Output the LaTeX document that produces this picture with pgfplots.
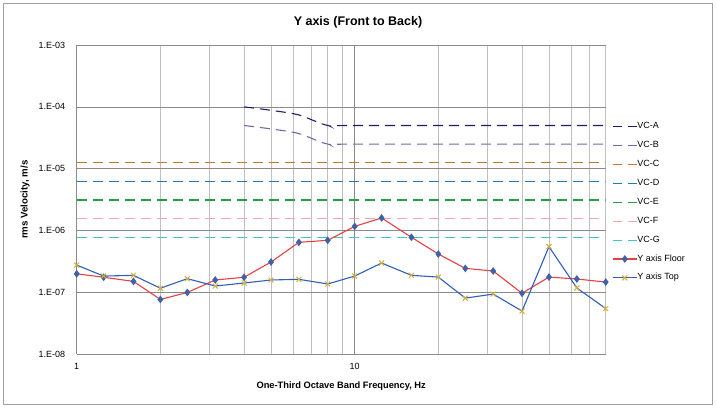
\documentclass[border=0pt]{standalone}
\usepackage{fontspec}
\setmainfont{Liberation Sans}
\usepackage{pgfplots}
\usepackage{pgfplotstable}
\pgfplotsset{compat=1.18}

\definecolor{vca}{HTML}{1C1C6B}
\definecolor{vcb}{HTML}{8064A2}
\definecolor{vcc}{HTML}{C8782E}
\definecolor{vcd}{HTML}{1A80B4}
\definecolor{vce}{HTML}{22A046}
\definecolor{vcf}{HTML}{F0A8A8}
\definecolor{vcg}{HTML}{3CC8C8}
\definecolor{floorred}{HTML}{E84040}
\definecolor{floorblue}{HTML}{3C62A8}
\definecolor{topblue}{HTML}{2E5EBF}
\definecolor{topgold}{HTML}{D4AF37}
\definecolor{majgrid}{HTML}{8A8A8A}
\definecolor{mingrid}{HTML}{C0C0C0}

\pgfplotstableread{
x y
1 2.0e-7
1.25 1.76e-7
1.6 1.51e-7
2 7.7e-8
2.5 1.0e-7
3.15 1.59e-7
4 1.76e-7
5 3.1e-7
6.3 6.46e-7
8 6.96e-7
10 1.17e-6
12.5 1.6e-6
16 7.8e-7
20 4.18e-7
25 2.45e-7
31.5 2.22e-7
40 9.7e-8
50 1.77e-7
63 1.65e-7
80 1.47e-7
}\floordata

\pgfplotstableread{
x y
1 2.77e-7
1.25 1.84e-7
1.6 1.89e-7
2 1.17e-7
2.5 1.67e-7
3.15 1.27e-7
4 1.42e-7
5 1.59e-7
6.3 1.63e-7
8 1.37e-7
10 1.84e-7
12.5 2.99e-7
16 1.89e-7
20 1.77e-7
25 8.1e-8
31.5 9.4e-8
40 5.0e-8
50 5.5e-7
63 1.18e-7
80 5.5e-8
}\topdata

\pgfplotstableread{
x a b
4 1.0e-4 5.0e-5
5 8.8e-5 4.4e-5
6.3 7.4e-5 3.7e-5
8 5.0e-5 2.5e-5
10 5.0e-5 2.5e-5
80 5.0e-5 2.5e-5
}\vcab

\pgfplotsset{vcline/.style={color=#1, line width=1.1pt, dash pattern=on 10pt off 6pt,
  legend image post style={dash pattern=on 9pt off 6pt}}}

\begin{document}
\begin{tikzpicture}
\useasboundingbox (0,0) rectangle (717pt,410pt);
\draw[gray!75, line width=0.8pt] (3.3pt,6pt) rectangle (712.3pt,406.7pt);
\node[font=\bfseries\fontsize{12.5}{14}\selectfont, anchor=center] at (358pt,387.3pt) {Y axis (Front to Back)};
\begin{axis}[
  at={(76.7pt,55.7pt)}, anchor=south west,
  scale only axis, width=529pt, height=309.3pt,
  xmode=log, ymode=log,
  xmin=1, xmax=80, ymin=1e-8, ymax=1e-3,
  xtick={1,10}, xticklabels={1,10},
  minor xtick={2,3,4,5,6,7,8,9,20,30,40,50,60,70,80},
  ytick={1e-8,1e-7,1e-6,1e-5,1e-4,1e-3},
  yticklabels={1.E-08,1.E-07,1.E-06,1.E-05,1.E-04,1.E-03},
  xmajorgrids, xminorgrids, ymajorgrids,
  major grid style={draw=majgrid, line width=0.7pt},
  minor grid style={draw=mingrid, line width=0.7pt},
  tick style={draw=none},
  axis line style={draw=none},
  tick label style={font=\fontsize{9}{10}\selectfont},
  yticklabel style={xshift=-8pt},
  xticklabel style={yshift=-5pt},
  xlabel={One-Third Octave Band Frequency, Hz},
  xlabel style={at={(axis description cs:0.5,-0.1015)}, anchor=center, font=\bfseries\fontsize{9.3}{11}\selectfont},
  ylabel={rms Velocity, m/s},
  ylabel style={at={(axis description cs:-0.0977,0.5)}, anchor=center, font=\bfseries\fontsize{9.7}{11}\selectfont},
  legend image code/.code={\draw[mark repeat=2,mark phase=2,#1] plot coordinates {(0pt,0pt) (12pt,0pt) (24pt,0pt)};},
  legend style={draw=none, fill=none, at={(axis description cs:1.0119,0.7504)}, anchor=north west,
    inner xsep=0pt, inner ysep=0pt, row sep=9.87pt,
    font=\fontsize{9}{10}\selectfont,
    nodes={inner sep=0pt, text height=6.5pt, text depth=2.5pt}},
  legend cell align=left,
  clip=true,
]
\addplot[vcline=vca, smooth, tension=0.5] table[x=x,y=a] {\vcab};
\addlegendentry{VC-A}
\addplot[vcline=vcb, smooth, tension=0.5] table[x=x,y=b] {\vcab};
\addlegendentry{VC-B}
\addplot[vcline=vcc] coordinates {(1,1.25e-5) (80,1.25e-5)};
\addlegendentry{VC-C}
\addplot[vcline=vcd] coordinates {(1,6.25e-6) (80,6.25e-6)};
\addlegendentry{VC-D}
\addplot[vcline=vce] coordinates {(1,3.125e-6) (80,3.125e-6)};
\addlegendentry{VC-E}
\addplot[vcline=vcf] coordinates {(1,1.5625e-6) (80,1.5625e-6)};
\addlegendentry{VC-F}
\addplot[vcline=vcg] coordinates {(1,7.8e-7) (80,7.8e-7)};
\addlegendentry{VC-G}
\addplot[floorred, line width=1.1pt, mark=diamond*, mark size=3pt, mark options={solid, fill=floorblue, draw=floorblue}] table[x=x,y=y] {\floordata};
\addlegendentry{Y axis Floor}
\addplot[topblue, line width=1.1pt, mark=x, mark size=3.5pt, mark options={solid, draw=topgold, line width=1pt}] table[x=x,y=y] {\topdata};
\addlegendentry{Y axis Top}
\end{axis}
\end{tikzpicture}
\end{document}
